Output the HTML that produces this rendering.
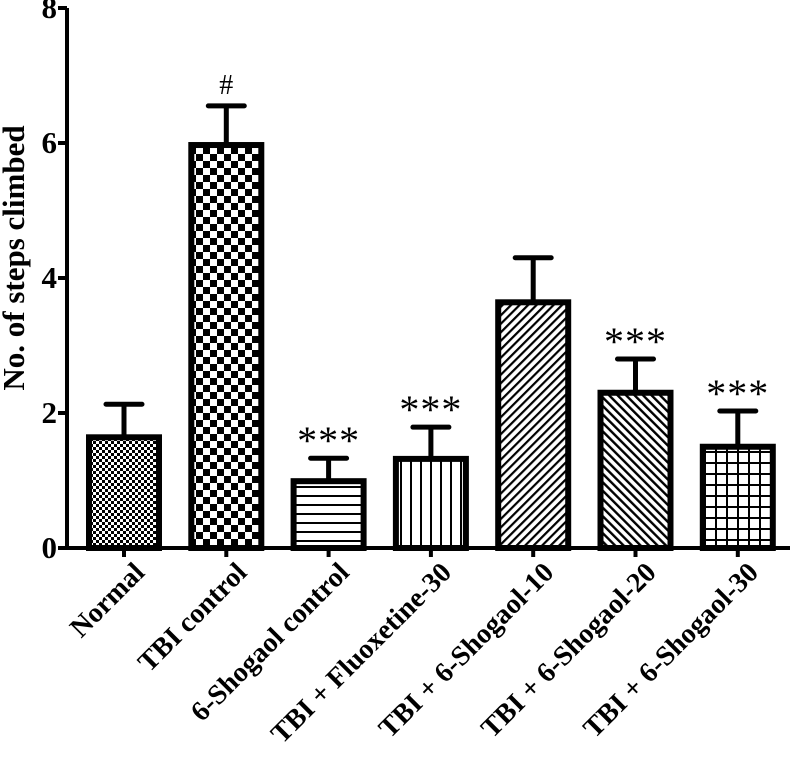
<!DOCTYPE html>
<html><head><meta charset="utf-8"><style>
body{margin:0;background:#fff}
svg{display:block;font-family:"Liberation Serif",serif;font-weight:bold}
</style></head><body>
<svg id="chart" width="791" height="770" viewBox="0 0 791 770" xmlns="http://www.w3.org/2000/svg">
<defs>
<pattern id="p0" width="6" height="6" patternUnits="userSpaceOnUse"><rect width="6" height="6" fill="#fff"/><rect width="3" height="3" fill="#000"/><rect x="3" y="3" width="3" height="3" fill="#000"/></pattern>
<pattern id="p1" width="14" height="14" patternUnits="userSpaceOnUse"><rect width="14" height="14" fill="#fff"/><rect width="7" height="7" fill="#000"/><rect x="7" y="7" width="7" height="7" fill="#000"/></pattern>
<pattern id="p2" width="8" height="9" patternUnits="userSpaceOnUse"><rect width="8" height="9" fill="#fff"/><rect y="0" width="8" height="2" fill="#000"/></pattern>
<pattern id="p3" width="10" height="8" patternUnits="userSpaceOnUse"><rect width="10" height="8" fill="#fff"/><rect x="0" width="2" height="8" fill="#000"/></pattern>
<pattern id="p4" width="6" height="6" patternUnits="userSpaceOnUse" patternTransform="rotate(45)"><rect width="6" height="6" fill="#fff"/><rect width="2.2" height="6" fill="#000"/></pattern>
<pattern id="p5" width="6" height="6" patternUnits="userSpaceOnUse" patternTransform="rotate(-45)"><rect width="6" height="6" fill="#fff"/><rect width="2.4" height="6" fill="#000"/></pattern>
<pattern id="p6" width="11" height="11" patternUnits="userSpaceOnUse"><rect width="11" height="11" fill="#fff"/><rect width="2" height="11" fill="#000"/><rect width="11" height="2" fill="#000"/></pattern>
</defs>
<g id="axes"></g>
<g id="bars"></g>
</svg>
<script>
const categories=["Normal","TBI control","6-Shogaol control","TBI + Fluoxetine-30","TBI + 6-Shogaol-10","TBI + 6-Shogaol-20","TBI + 6-Shogaol-30"];
const means=[1.64,5.97,0.99,1.32,3.64,2.30,1.50];
const errors=[0.49,0.58,0.34,0.47,0.66,0.50,0.53];
const marks=["","#","***","***","","***","***"];
const yTicks=[0,2,4,6,8];
const NS="http://www.w3.org/2000/svg";
const x0=67,y0=548,pxPerUnit=67.5,step=102.3,firstCenter=124,barW=70;
const y=v=>y0-v*pxPerUnit;
const xc=i=>firstCenter+i*step;
function mk(t,a,parent){const e=document.createElementNS(NS,t);for(const k in a)e.setAttribute(k,a[k]);parent.appendChild(e);return e;}
const ax=document.getElementById('axes'),bg=document.getElementById('bars');
let yl=mk('line',{x1:x0,y1:y(8),x2:x0,y2:y0+2,stroke:'#000','stroke-width':4},ax);


let xl=mk('line',{x1:x0-2,y1:y0,x2:790,y2:y0,stroke:'#000','stroke-width':4},ax);


yTicks.forEach(v=>{
  let t=mk('line',{x1:x0-9,y1:y(v),x2:x0,y2:y(v),stroke:'#000','stroke-width':4},ax);
  
  
  let l=mk('text',{x:x0-10,y:y(v)+10,'text-anchor':'end','font-size':31},ax);
  l.textContent=v;
  
  
});
let yt=mk('text',{transform:'translate(24,258) rotate(-90)','text-anchor':'middle','font-size':31},ax);
yt.textContent='No. of steps climbed';


categories.forEach((c,i)=>{
  const cx=xc(i);
  let r=mk('rect',{x:cx-barW/2,y:y(means[i]),width:barW,height:y0-y(means[i]),fill:`url(#p${i})`,stroke:'#000','stroke-width':6},bg);
  
  
  let e=mk('path',{d:`M${cx} ${y(means[i])} V${y(means[i]+errors[i])} M${cx-18} ${y(means[i]+errors[i])} H${cx+18}`,stroke:'#000','stroke-width':5,'stroke-linecap':'round',fill:'none'},bg);
  
  
  if(marks[i]){
    let m=mk('text',{x:cx,y:y(means[i]+errors[i])-(marks[i]=='#'?12:4),'text-anchor':'middle','font-size':marks[i]=='#'?28:40,'font-weight':'normal','letter-spacing':marks[i]=='#'?0:1},bg);
    m.textContent=marks[i];
    
    
  }
  let t=mk('line',{x1:cx,y1:y0,x2:cx,y2:y0+9,stroke:'#000','stroke-width':4},ax);
  
  
  let l=mk('text',{transform:`translate(${cx+22},${y0+26}) rotate(-45)`,'text-anchor':'end','font-size':28},ax);
  l.textContent=c;
  
  
});
</script>
</body></html>
